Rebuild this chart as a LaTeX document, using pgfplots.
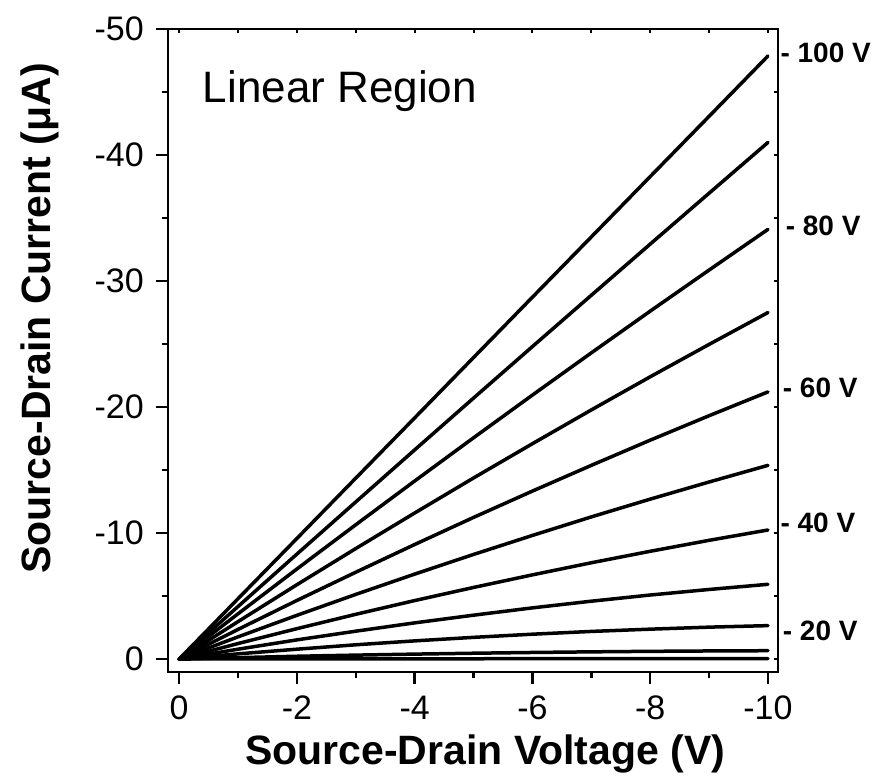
\documentclass[border=0pt]{standalone}
\usepackage{pgfplots}
\pgfplotsset{compat=1.18}
\usepackage{pgfplotstable}
\usepackage{fontspec}
\setmainfont{Liberation Sans}

\pgfplotstableread{
V    c1     c2     c3     c4     c5     c6     c7     c8    c9    c10   c11
0    0      0      0      0      0      0      0      0     0     0     0
-1   -4.79  -4.17  -3.59  -2.97  -2.35  -1.76  -1.23  -0.78 -0.41 -0.11 -0.01
-2   -9.57  -8.33  -7.15  -5.90  -4.65  -3.47  -2.41  -1.52 -0.78 -0.22 -0.01
-3   -14.36 -12.47 -10.66 -8.77  -6.89  -5.13  -3.55  -2.21 -1.13 -0.31 -0.02
-4   -19.14 -16.60 -14.13 -11.59 -9.09  -6.74  -4.64  -2.87 -1.44 -0.39 -0.02
-5   -23.93 -20.71 -17.56 -14.37 -11.24 -8.30  -5.68  -3.48 -1.72 -0.46 -0.02
-6   -28.72 -24.80 -20.95 -17.09 -13.33 -9.81  -6.68  -4.06 -1.97 -0.52 -0.03
-7   -33.50 -28.87 -24.30 -19.77 -15.37 -11.28 -7.64  -4.59 -2.19 -0.57 -0.03
-8   -38.29 -32.93 -27.61 -22.40 -17.37 -12.69 -8.55  -5.08 -2.37 -0.61 -0.03
-9   -43.07 -36.97 -30.87 -24.97 -19.31 -14.05 -9.42  -5.52 -2.53 -0.64 -0.03
-10  -47.86 -41.00 -34.10 -27.50 -21.20 -15.37 -10.24 -5.93 -2.65 -0.66 -0.03
}\data

\begin{document}
\begin{tikzpicture}
\path[use as bounding box] (0pt,0pt) rectangle (879pt,778pt);
\begin{axis}[
  at={(168pt,106pt)}, anchor=south west,
  scale only axis, width=610pt, height=643pt,
  x dir=reverse, y dir=reverse,
  xmin=-10.17, xmax=0.19, ymin=-50, ymax=1.03,
  xtick={0,-2,-4,-6,-8,-10}, xticklabels={0,-2,-4,-6,-8,-10},
  ytick={0,-10,-20,-30,-40,-50}, yticklabels={0,-10,-20,-30,-40,-50},
  minor x tick num=1, minor y tick num=1,
  xtick pos=left, ytick pos=left,
  tick align=outside,
  major tick length=12pt, minor tick length=6pt,
  every tick/.style={black, line width=2.5pt},
  axis line style={line width=2.8pt},
  tick label style={font=\fontsize{34}{40}\selectfont, inner sep=0pt},
  xticklabel style={yshift=-12pt},
  yticklabel style={xshift=-12pt},
  xlabel={Source-Drain Voltage (V)},
  ylabel={Source-Drain Current (μA)},
  label style={font=\fontsize{41}{48}\selectfont\bfseries},
  xlabel style={at={(axis description cs:0.52,-0.1446)}, anchor=base},
  ylabel style={at={(axis description cs:-0.21,0.55)}, anchor=center},
  clip=false,
]
\pgfplotsinvokeforeach{1,...,11}{
  \addplot[black, line width=3.5pt, line cap=round, line join=round] table[x=V, y=c#1]{\data};
}
\node[anchor=base west, inner sep=0pt, font=\fontsize{44}{52}\selectfont] at (axis description cs:0.057,0.886) {Linear Region};
\begin{scope}[every node/.style={anchor=west, inner sep=0pt, font=\fontsize{28}{33}\selectfont\bfseries}]
\node at (axis cs:-10.21,-48.1) {- 100 V};
\node at (axis cs:-10.30,-34.4) {- 80 V};
\node at (axis cs:-10.25,-21.5) {- 60 V};
\node at (axis cs:-10.21,-10.8) {- 40 V};
\node at (axis cs:-10.25,-2.2) {- 20 V};
\end{scope}
\end{axis}
\begin{axis}[
  at={(168pt,106pt)}, anchor=south west,
  scale only axis, width=610pt, height=643pt,
  x dir=reverse, y dir=reverse,
  xmin=-10.17, xmax=0.19, ymin=-50, ymax=1.03,
  xtick={0,-2,-4,-6,-8,-10}, xticklabels={},
  ytick={0,-10,-20,-30,-40,-50}, yticklabels={},
  minor x tick num=1, minor y tick num=1,
  xtick pos=right, ytick pos=right,
  tick align=inside,
  major tick length=4pt, minor tick length=4pt,
  every tick/.style={black, line width=2pt},
  axis line style={line width=2.8pt},
]
\end{axis}
\end{tikzpicture}
\end{document}
